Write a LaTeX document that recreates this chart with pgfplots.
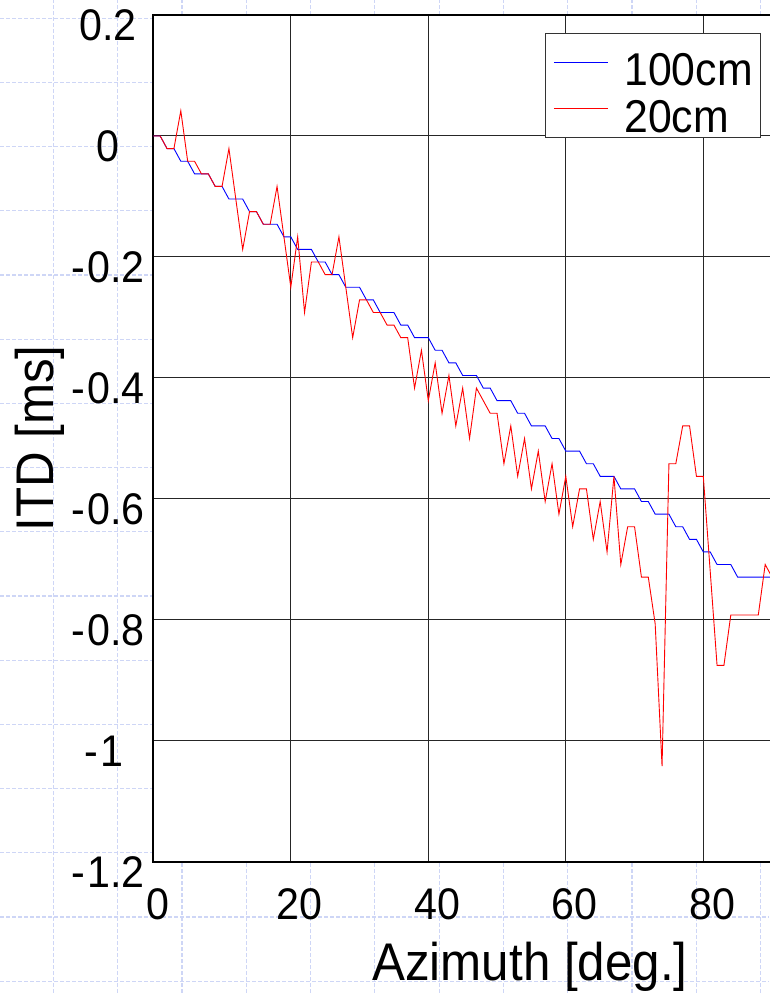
\documentclass[border=0pt]{standalone}
\usepackage{fontspec}
\setmainfont{Liberation Sans}[FakeStretch=0.93]
\usepackage{pgfplots}
\pgfplotsset{compat=1.18}
\usepackage{pgfplotstable}

\definecolor{paper}{RGB}{206,214,246}
\newcommand\mn{-\kern2pt}

% ITD [ms] vs azimuth [deg], source at 100 cm
\pgfplotstableread{
az itd
0 0
1 0
2 -0.0208
3 -0.0208
4 -0.0417
5 -0.0417
6 -0.0625
7 -0.0625
8 -0.0625
9 -0.0833
10 -0.0833
11 -0.1042
12 -0.1042
13 -0.1042
14 -0.125
15 -0.125
16 -0.1458
17 -0.1458
18 -0.1458
19 -0.1667
20 -0.1667
21 -0.1875
22 -0.1875
23 -0.1875
24 -0.2083
25 -0.2083
26 -0.2292
27 -0.2292
28 -0.25
29 -0.25
30 -0.25
31 -0.2708
32 -0.2708
33 -0.2917
34 -0.2917
35 -0.2917
36 -0.3125
37 -0.3125
38 -0.3333
39 -0.3333
40 -0.3333
41 -0.3542
42 -0.3542
43 -0.375
44 -0.375
45 -0.3958
46 -0.3958
47 -0.3958
48 -0.4167
49 -0.4167
50 -0.4375
51 -0.4375
52 -0.4375
53 -0.4583
54 -0.4583
55 -0.4792
56 -0.4792
57 -0.4792
58 -0.5
59 -0.5
60 -0.5208
61 -0.5208
62 -0.5208
63 -0.5417
64 -0.5417
65 -0.5625
66 -0.5625
67 -0.5625
68 -0.5833
69 -0.5833
70 -0.5833
71 -0.6042
72 -0.6042
73 -0.625
74 -0.625
75 -0.625
76 -0.6458
77 -0.6458
78 -0.6667
79 -0.6667
80 -0.6875
81 -0.6875
82 -0.7083
83 -0.7083
84 -0.7083
85 -0.7292
86 -0.7292
87 -0.7292
88 -0.7292
89 -0.7292
90 -0.7292
}\farfield

% source at 20 cm
\pgfplotstableread{
az itd
0 0
1 0
2 -0.0208
3 -0.0208
4 0.0417
5 -0.0417
6 -0.0417
7 -0.0625
8 -0.0625
9 -0.0833
10 -0.0833
11 -0.0208
12 -0.1042
13 -0.1875
14 -0.125
15 -0.125
16 -0.1458
17 -0.1458
18 -0.0833
19 -0.1667
20 -0.25
21 -0.1667
22 -0.2917
23 -0.2083
24 -0.2083
25 -0.2292
26 -0.2292
27 -0.1667
28 -0.25
29 -0.3333
30 -0.2708
31 -0.2708
32 -0.2917
33 -0.2917
34 -0.3125
35 -0.3125
36 -0.3333
37 -0.3333
38 -0.4167
39 -0.3542
40 -0.4375
41 -0.375
42 -0.4583
43 -0.3958
44 -0.4792
45 -0.4167
46 -0.5
47 -0.4167
48 -0.4375
49 -0.4583
50 -0.4583
51 -0.5417
52 -0.4792
53 -0.5625
54 -0.5
55 -0.5833
56 -0.5208
57 -0.6042
58 -0.5417
59 -0.625
60 -0.5625
61 -0.6458
62 -0.5833
63 -0.5833
64 -0.6667
65 -0.6042
66 -0.6875
67 -0.5625
68 -0.7083
69 -0.6458
70 -0.6458
71 -0.7292
72 -0.7292
73 -0.8063
74 -1.0417
75 -0.5417
76 -0.5417
77 -0.4792
78 -0.4792
79 -0.5625
80 -0.5625
81 -0.7188
82 -0.875
83 -0.875
84 -0.7917
85 -0.7917
86 -0.7917
87 -0.7917
88 -0.7917
89 -0.7083
90 -0.7292
}\nearfield

\begin{document}
\begin{tikzpicture}
\useasboundingbox (0pt,0pt) rectangle (769pt,993pt);
% graph-paper background
\foreach \gx in {0,...,11}
  \draw[paper, line width=1.2pt, dash pattern=on 4pt off 2pt]
    ({(53.3+64.3*\gx)*1pt},0pt) -- ({(53.3+64.3*\gx)*1pt},993pt);
\foreach \gy in {0,...,15}
  \draw[paper, line width=1.2pt, dash pattern=on 4pt off 2pt]
    (0pt,{(974.7-64.2*\gy)*1pt}) -- (769pt,{(974.7-64.2*\gy)*1pt});

\begin{axis}[
  at={(153.3pt,131pt)}, anchor=south west,
  scale only axis, width=618.75pt, height=847pt,
  xmin=0, xmax=90, ymin=-1.2, ymax=0.2,
  xtick={0,20,40,60,80}, xticklabels={\hspace*{-8pt}0,20,40,60,80},
  ytick={-1.2,-1,-0.8,-0.6,-0.4,-0.2,0,0.2},
  yticklabels={\mn1.2,\hspace*{-8pt}\mn1,\mn0.8,\mn0.6,\mn0.4,\mn0.2,0,0.2},
  grid=major, major grid style={black!85, line width=1pt},
  major tick length=0pt,
  axis line style={black, line width=1.7pt},
  axis background/.style={fill=white},
  tick label style={font=\fontsize{44.3}{48}\selectfont},
  xticklabel style={anchor=center, xshift=9pt, yshift=-42.3pt},
  yticklabel style={anchor=center, xshift=-45.3pt, yshift=-10pt},
  xlabel={Azimuth [deg.]}, ylabel={ITD [ms]},
  label style={font=\fontsize{53}{60}\selectfont},
  xlabel style={at={(axis description cs:0.6088,-0.1401)}, anchor=base},
  ylabel style={at={(axis description cs:-0.1616,0.5)}, anchor=base},
  legend cell align=left,
  legend image code/.code={\path (0pt,0pt) -- (7pt,0pt); \draw[#1] (7pt,0pt) -- (53.7pt,0pt);},
  legend style={at={(0.633,0.9791)}, anchor=north west, draw=black!80, line width=0.8pt,
    fill=white, inner xsep=8pt, inner ysep=5.6pt, row sep=0pt, column sep=16.3pt,
    font=\fontsize{46}{46}\selectfont,
    nodes={inner sep=0pt, text height=46.7pt, text depth=0pt}},
]
\addplot[blue, line width=0.9pt] table[x=az, y=itd] {\farfield};
\addlegendentry{100cm}
\addplot[red, line width=0.9pt] table[x=az, y=itd] {\nearfield};
\addlegendentry{20cm}
\end{axis}
\end{tikzpicture}
\end{document}
